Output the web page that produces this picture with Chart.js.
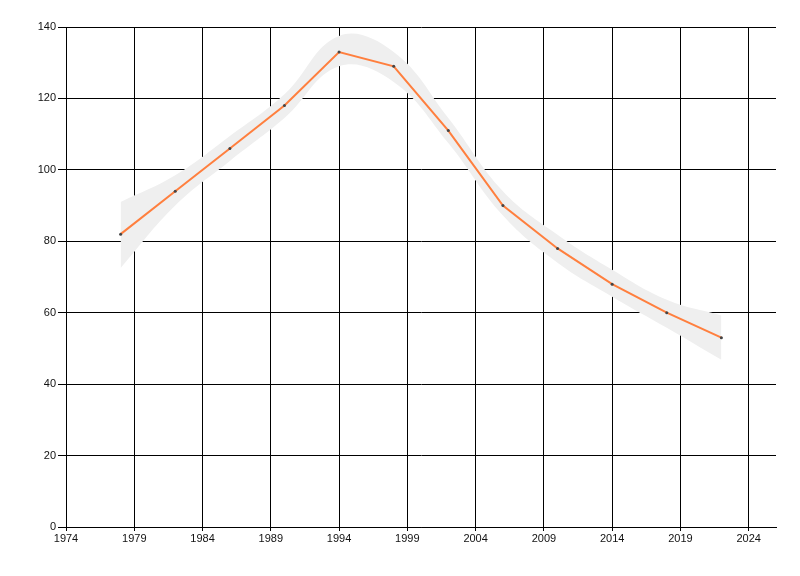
<!DOCTYPE html>
<html lang="en">
<head>
    <meta charset="UTF-8">
    <title>Trend with confidence band</title>
    <script src="https://cdn.jsdelivr.net/npm/chart.js"></script>
    <style>
        html, body { margin: 0; padding: 0; background: #fff; }
        #wrap { width: 800px; height: 576px; }
    </style>
</head>
<body>
    <div id="wrap"><canvas id="trendChart"></canvas></div>
    <script>
        const years = [1978, 1982, 1986, 1990, 1994, 1998, 2002, 2006, 2010, 2014, 2018, 2022];
        const values = [82, 94, 106, 118, 133, 129, 111, 90, 78, 68, 60, 53];
        const upper = [91, 98.5, 109.5, 121.2, 137.5, 133, 114.5, 94, 81.8, 72, 63.6, 59.2];
        const lower = [72.5, 90, 102.5, 114.5, 129, 124.6, 107.5, 87.2, 74, 64.5, 55.8, 46.8];
        const xTicks = [1974, 1979, 1984, 1989, 1994, 1999, 2004, 2009, 2014, 2019, 2024];

        const pts = arr => years.map((y, i) => ({ x: y, y: arr[i] }));
        const font = { family: 'Liberation Sans', size: 11 };

        const ctx = document.getElementById('trendChart').getContext('2d');
        new Chart(ctx, {
            type: 'line',
            data: {
                datasets: [
                    { data: pts(values), borderColor: '#ff7f3e', borderWidth: 2, pointRadius: 1.5,
                      pointBackgroundColor: '#444', pointBorderWidth: 0, tension: 0, order: 0 },
                    { data: pts(upper), borderWidth: 0, pointRadius: 0, tension: 0.4,
                      fill: '+1', backgroundColor: '#efefef', order: 1 },
                    { data: pts(lower), borderWidth: 0, pointRadius: 0, tension: 0.4,
                      fill: false, order: 2 }
                ]
            },
            options: {
                responsive: true,
                maintainAspectRatio: false,
                animation: false,
                layout: { padding: { left: 0, top: 27, right: 24, bottom: 0 } },
                plugins: { legend: { display: false }, tooltip: { enabled: false } },
                scales: {
                    x: {
                        type: 'linear', min: 1974, max: 2026,
                        afterBuildTicks: s => { s.ticks = xTicks.map(v => ({ value: v })); },
                        afterFit: s => { s.height = 49; },
                        ticks: { color: '#111', font, padding: 1, maxRotation: 0, callback: v => String(v) },
                        grid: { color: '#000', lineWidth: 1, tickLength: 4, drawOnChartArea: true },
                        border: { color: '#000', width: 1 }
                    },
                    y: {
                        min: 0, max: 140,
                        ticks: { stepSize: 20, color: '#111', font, padding: 2 },
                        afterFit: s => { s.width = 66; },
                        grid: { color: '#000', lineWidth: 1, tickLength: 8 },
                        border: { color: '#000', width: 1 }
                    }
                }
            }
        });
    </script>
</body>
</html>
